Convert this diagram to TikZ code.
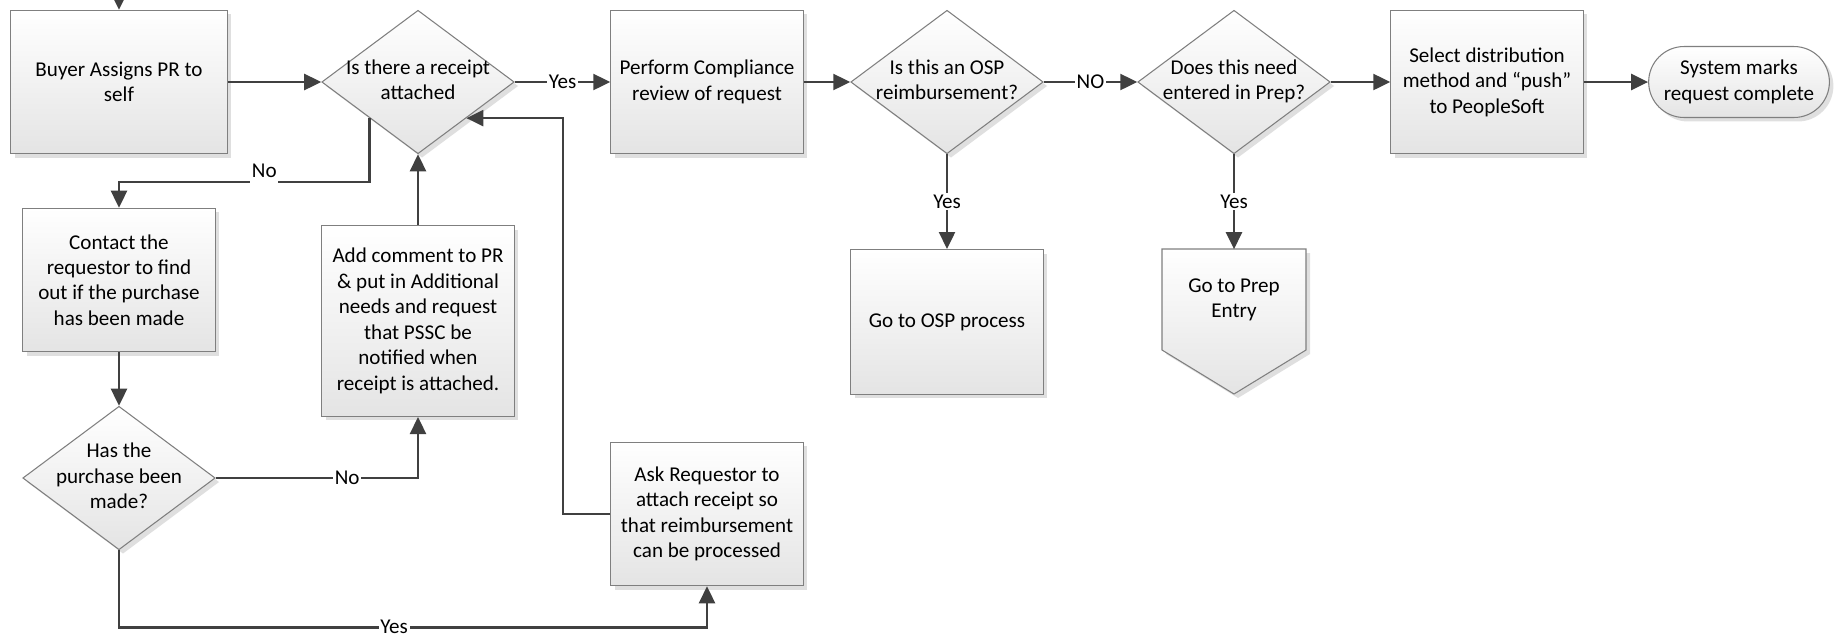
\documentclass[tikz,border=0pt]{standalone}
\usepackage{fontspec}
\setmainfont{Carlito}
\usepackage{tikz}
\usetikzlibrary{arrows.meta,shapes.geometric,shapes.misc,shadows}

\definecolor{linegray}{HTML}{404040}
\definecolor{boxedge}{HTML}{7F7F7F}
\definecolor{boxfill}{HTML}{E4E4E4}
% text inside a diamond, kept from widening it
\newcommand{\dtext}[1]{\smash{\raisebox{-3pt}{\makebox[0pt]{\begin{tabular}{@{}c@{}}#1\end{tabular}}}}}

\begin{document}
\begin{tikzpicture}[x=0.02cm, y=-0.02cm,
                    >={Triangle[length=0.34cm,width=0.32cm]},
                    every node/.style={font=\fontsize{12}{14.5}\selectfont},
                    base/.style={draw=boxedge, line width=0.6pt,
                      top color=white, bottom color=boxfill,
                      drop shadow={shadow xshift=0.08cm, shadow yshift=-0.08cm, fill=black!25}},
                    procbox/.style={base, rectangle, minimum width=3.85cm,
                      minimum height=2.87cm, align=center, inner sep=2pt},
                    decision/.style={base, diamond, minimum width=3.85cm,
                      minimum height=2.87cm, inner sep=0pt},
                    endbox/.style={base, rounded rectangle, minimum width=3.85cm,
                      minimum height=1.42cm, align=center},
                    flow/.style={->, draw=linegray, line width=1.4pt},
                    lbl/.style={fill=white, inner sep=1pt}]
\useasboundingbox (0,0) rectangle (1844,640);

% top row
\node[procbox, minimum width=4.33cm] (buyer) at (119,82) {Buyer Assigns PR to\\self};
\node[decision] (receipt) at (418,82) {\dtext{Is there a receipt\\attached}};
\node[procbox] (comply) at (707,82) {Perform Compliance\\review of request};
\node[decision] (osp) at (947,82) {\dtext{Is this an OSP\\reimbursement?}};
\node[decision] (prep) at (1234,82) {\dtext{Does this need\\entered in Prep?}};
\node[procbox] (select) at (1487,82) {Select distribution\\method and “push”\\to PeopleSoft};
\node[endbox] (done) at (1739,82) {System marks\\request complete};

% lower part
\node[procbox] (contact) at (119,280) {Contact the\\requestor to find\\out if the purchase\\has been made};
\node[decision] (made) at (119,478) {\dtext{Has the\\purchase been\\made?}};
\node[procbox, minimum height=3.82cm] (comment) at (418,321)
  {Add comment to PR\\\& put in Additional\\needs and request\\that PSSC be\\notified when\\receipt is attached.};
\node[procbox] (askreq) at (707,514) {Ask Requestor to\\attach receipt so\\that reimbursement\\can be processed};
\node[procbox, minimum height=2.9cm] (ospgo) at (947,322) {Go to OSP process};
% off-page reference
\path[base] (1162,249) -- (1306,249) -- (1306,350) -- (1234,394) -- (1162,350) -- cycle;
\node[minimum width=2.88cm, minimum height=2.02cm, align=center] (prepgo) at (1234,300) {Go to Prep\\Entry};

\coordinate (entry) at (119,-12);
\draw[flow] (entry) -- (buyer);
\draw[flow] (buyer) -- (receipt);
\draw[flow] (receipt) -- node[lbl] {Yes} (comply);
\draw[flow] (comply) -- (osp);
\draw[flow] (osp) -- node[lbl] {NO} (prep);
\draw[flow] (prep) -- (select);
\draw[flow] (select) -- (done);
\draw[flow] (osp) -- node[lbl] {Yes} (ospgo);
\draw[flow] (prep) -- node[lbl] {Yes} (prepgo);
\draw[flow] (receipt.south west) -- ++(0,64) -| node[lbl, pos=0.21, inner ysep=3.7pt, yshift=0.23cm] {No} (contact.north);
\draw[flow] (contact) -- (made);
\draw[flow] (made) -| node[lbl, pos=0.325] {No} (comment.south);
\draw[flow] (comment) -- (receipt);
\draw[flow] (made.south) -- ++(0,77) -| node[lbl, pos=0.234] {Yes} (askreq.south);
\draw[flow] (askreq.west) -- ++(-47,0) |- (receipt.south east);
\end{tikzpicture}
\end{document}
